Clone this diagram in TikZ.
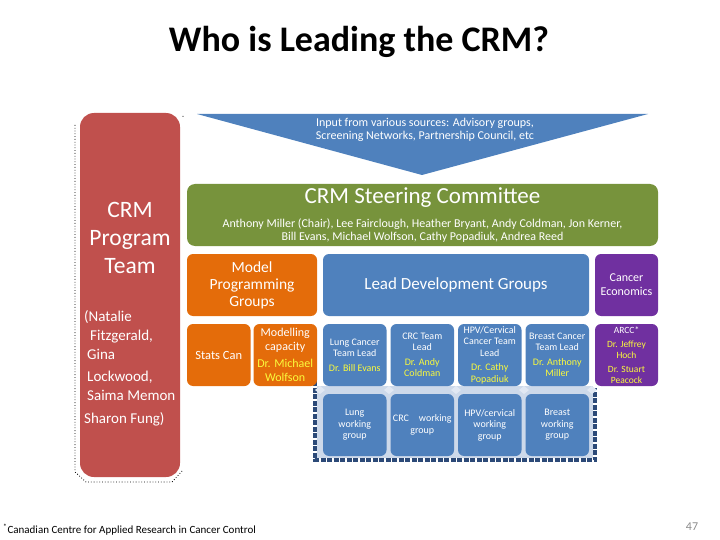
\documentclass[tikz,border=0pt]{standalone}
\usepackage{fontspec}
\setmainfont{Carlito}
\usetikzlibrary{positioning}
\definecolor{crmred}{HTML}{C0504D}
\definecolor{crmgreen}{HTML}{77933C}
\definecolor{crmorange}{HTML}{E46C0A}
\definecolor{crmblue}{HTML}{4F81BD}
\definecolor{crmpurple}{HTML}{7030A0}
\definecolor{crmyellow}{HTML}{FAFA3C}
\definecolor{crmnavy}{HTML}{2C4A78}
\definecolor{crmpale}{HTML}{CDD9EA}
\definecolor{muted}{HTML}{8C8C8C}
\tikzset{
  panel/.style={rectangle,rounded corners=6pt,align=center,inner sep=1pt,outer sep=0pt,text=white},
  orangebox/.style={panel,fill=crmorange,minimum width=63.5pt,minimum height=62pt,font=\fontsize{12}{14}\selectfont},
  bluebox/.style={panel,fill=crmblue,minimum width=63.5pt,minimum height=62pt,font=\fontsize{10}{11.5}\selectfont},
  purplebox/.style={panel,fill=crmpurple,minimum width=63pt,minimum height=62pt,font=\fontsize{10}{11.5}\selectfont},
  smallnote/.style={font=\fontsize{11}{13}\selectfont,inner sep=0pt}
}
\newcommand{\lead}[1]{\textcolor{crmyellow}{#1}}

\begin{document}
\begin{tikzpicture}[x=1pt,y=-1pt]
    \useasboundingbox (0,0) rectangle (720,540);
    \node[font=\fontsize{36}{40}\selectfont\bfseries] (title) at (359,42) {Who is Leading the CRM?};
    % program team column
    \draw[dotted,thick] (183,116) -- (183,118) (75,125) -- (75,472) -- (86,482) -- (172,482) -- (183,470);
    \node[panel,fill=crmred,rounded corners=14pt,minimum width=100pt,minimum height=364pt] (team) at (130,295) {};
    \node[font=\fontsize{23.5}{28}\selectfont,text=white,align=center] (teamname) at (130,238) {CRM\\Program\\Team};
    \node[font=\fontsize{15}{19}\selectfont,text=white,align=left,anchor=north west,inner sep=0pt] (teamlist) at (84,310) {(Natalie\\\hspace{6pt}Fitzgerald,\\\hspace{3pt}Gina\\[3pt]\hspace{3pt}Lockwood,\\\hspace{3pt}Saima Memon\\[4pt]Sharon Fung)};
    % input arrow
    \fill[crmblue] (197,114) -- (648,114) -- (422,175) -- cycle;
    \node[smallnote,font=\fontsize{12}{13}\selectfont,text=white,align=center] (input) at (425,130) {Input from various sources: Advisory groups,\\Screening Networks, Partnership Council, etc};
    \node[panel,fill=crmgreen,rounded corners=8pt,minimum width=471pt,minimum height=62pt,font=\fontsize{12}{13}\selectfont] (steer) at (422.5,215) {{\fontsize{23}{24}\selectfont CRM Steering Committee}\\[11pt]Anthony Miller (Chair), Lee Fairclough, Heather Bryant, Andy Coldman, Jon Kerner,\\Bill Evans, Michael Wolfson, Cathy Popadiuk, Andrea Reed};
    % first row
    \node[orangebox,minimum width=130pt,font=\fontsize{15.5}{17}\selectfont] (model) at (252,285) {Model\\Programming\\Groups};
    \node[bluebox,right=6pt of model,minimum width=266pt,font=\fontsize{17}{18}\selectfont] (leaddev) {Lead Development Groups};
    \node[purplebox,right=6pt of leaddev,font=\fontsize{12}{14}\selectfont] (econ) {Cancer\\Economics};
    % working group backdrop
    \fill[crmpale] (317,386) rectangle (593,458);
    \draw[crmnavy,line width=3.5pt,dash pattern=on 5pt off 1.5pt] (315,368) -- (315,460) -- (595,460) -- (595,388);
    \foreach \x in {320,389,456,524,592}
      \fill[crmpale!60] (\x-5,390) -- (\x,386) -- (\x+5,390) -- (\x,394) -- cycle;
    % second row
    \node[orangebox,below=8pt of model.south west,anchor=north west,font=\fontsize{12.5}{14}\selectfont] (stats) {Stats Can};
    \node[orangebox,right=3pt of stats] (capacity) {Modelling\\capacity\\[3pt]\lead{Dr. Michael}\\\lead{Wolfson}};
    \node[bluebox,below=8pt of leaddev.south west,anchor=north west] (lunglead) {Lung Cancer\\Team Lead\\[3pt]\lead{Dr. Bill Evans}};
    \node[bluebox,right=4pt of lunglead] (crclead) {CRC Team\\Lead\\[3pt]\lead{Dr. Andy}\\\lead{Coldman}};
    \node[bluebox,right=4pt of crclead] (hpvlead) {HPV/Cervical\\Cancer Team\\Lead\\[3pt]\lead{Dr. Cathy}\\\lead{Popadiuk}};
    \node[bluebox,right=4pt of hpvlead] (breastlead) {Breast Cancer\\Team Lead\\[3pt]\lead{Dr. Anthony}\\\lead{Miller}};
    \node[purplebox,below=8pt of econ,font=\fontsize{9.5}{11}\selectfont] (arcc) {ARCC*\\[3pt]\lead{Dr. Jeffrey}\\\lead{Hoch}\\[3pt]\lead{Dr. Stuart}\\\lead{Peacock}};
    % third row
    \node[bluebox,below=8pt of lunglead] (lunggroup) {Lung\\working\\group};
    \node[bluebox,below=8pt of crclead] (crcgroup) {CRC\quad working\\group};
    \node[bluebox,below=8pt of hpvlead] (hpvgroup) {HPV/cervical\\working\\group};
    \node[bluebox,below=8pt of breastlead] (breastgroup) {Breast\\working\\group};
    % footer
    \node[smallnote,anchor=west] (footnote) at (3,530) {\textsuperscript{*}Canadian Centre for Applied Research in Cancer Control};
    \node[font=\fontsize{12}{14}\selectfont,text=muted] (pagenum) at (692,527) {47};
  \end{tikzpicture}
\end{document}
